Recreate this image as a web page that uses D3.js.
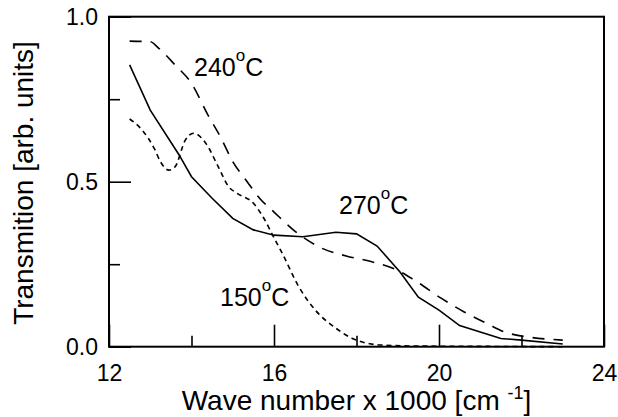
<!DOCTYPE html>
<html>
<head>
<meta charset="UTF-8">
<title>Transmition</title>
<script src="https://cdn.jsdelivr.net/npm/d3@7"></script>
<style>
  body { margin: 0; background: #fff; }
  text { font-family: "Liberation Sans", Arial, sans-serif; fill: #000; }
</style>
</head>
<body>
<script>

// wave number (x1000 cm^-1) and transmission
var wave270 = [12.5, 13.0, 13.7, 14.0, 14.5, 15.0, 15.5, 16.0, 16.7, 17.5, 18.0, 18.5, 19.05, 19.5, 20.0, 20.5, 21.5, 22.0, 23.0];
var trans270 = [0.854, 0.717, 0.581, 0.515, 0.45, 0.389, 0.354, 0.338, 0.333, 0.347, 0.342, 0.305, 0.227, 0.15, 0.111, 0.064, 0.025, 0.02, 0.008];

var wave240 = [12.5, 13.0, 13.2, 13.6, 14.0, 14.4, 14.7, 15.0, 15.35, 15.65, 16.0, 16.6, 17.15, 17.75, 18.35, 18.95, 19.4, 20.05, 20.6, 21.15, 21.7, 23.0];
var trans240 = [0.926, 0.924, 0.905, 0.854, 0.798, 0.702, 0.636, 0.561, 0.5, 0.45, 0.408, 0.341, 0.299, 0.275, 0.258, 0.234, 0.202, 0.147, 0.106, 0.071, 0.04, 0.02];

var wave150 = [12.5, 12.8, 13.1, 13.25, 13.45, 13.6, 13.85, 14.05, 14.35, 14.65, 14.9, 15.1, 15.5, 15.75, 16.0, 16.2, 16.6, 17.0, 17.5, 17.9, 18.6, 19.5, 21.0, 23.0];
var trans150 = [0.69, 0.657, 0.6, 0.56, 0.535, 0.545, 0.626, 0.647, 0.616, 0.545, 0.485, 0.465, 0.435, 0.39, 0.33, 0.283, 0.182, 0.111, 0.056, 0.025, 0.005, 0.002, 0.001, 0.0];

var xMajor = [12, 16, 20, 24];
var xMinor = [14, 18, 22];
var yMajor = [0, 0.5, 1.0];
var yMinor = [0.25, 0.75];

var width = 618, height = 417;
var margin = {left: 109, right: 14, top: 16.7, bottom: 70.3};
var w = width - margin.left - margin.right;
var h = height - margin.top - margin.bottom;

var svg = d3.select("body").append("svg")
    .attr("width", width)
    .attr("height", height);

var g = svg.append("g")
    .attr("transform", "translate(" + margin.left + "," + margin.top + ")");

var x = d3.scaleLinear().domain([12, 24]).range([0, w]);
var y = d3.scaleLinear().domain([0, 1]).range([h, 0]);

// ticks point inward
var xAxis = g.append("g")
    .attr("transform", "translate(0," + h + ")")
    .call(d3.axisBottom(x).tickValues(xMajor).tickSizeInner(-22).tickSizeOuter(0)
        .tickPadding(34).tickFormat(d3.format("d")));
g.append("g")
    .attr("transform", "translate(0," + h + ")")
    .call(d3.axisBottom(x).tickValues(xMinor).tickSizeInner(-11).tickSizeOuter(0).tickFormat(""));

var yAxis = g.append("g")
    .call(d3.axisLeft(y).tickValues(yMajor).tickSizeInner(-22).tickSizeOuter(0)
        .tickPadding(11).tickFormat(d3.format(".1f")));
g.append("g")
    .call(d3.axisLeft(y).tickValues(yMinor).tickSizeInner(-11).tickSizeOuter(0).tickFormat(""));

g.selectAll(".domain").remove();
g.selectAll(".tick line").attr("stroke", "#000").attr("stroke-width", 1.6);
g.selectAll(".tick text").style("font-size", "23px");
xAxis.selectAll(".tick text").attr("dy", 0);
yAxis.selectAll(".tick text").attr("dy", "0.36em");

g.append("rect")
    .attr("width", w)
    .attr("height", h)
    .attr("fill", "none")
    .attr("stroke", "#000")
    .attr("stroke-width", 2);

function series(wx, ty) {
    return wx.map(function(d, i) { return [d, ty[i]]; });
}

var lineLin = d3.line()
    .x(function(d) { return x(d[0]); })
    .y(function(d) { return y(d[1]); });
var lineSmooth = d3.line()
    .curve(d3.curveMonotoneX)
    .x(function(d) { return x(d[0]); })
    .y(function(d) { return y(d[1]); });

g.append("path")
    .datum(series(wave270, trans270))
    .attr("d", lineLin)
    .attr("fill", "none").attr("stroke", "#000").attr("stroke-width", 1.6);

g.append("path")
    .datum(series(wave240, trans240))
    .attr("d", lineSmooth)
    .attr("fill", "none").attr("stroke", "#000").attr("stroke-width", 1.6)
    .attr("stroke-dasharray", "12,9");

g.append("path")
    .datum(series(wave150, trans150))
    .attr("d", lineSmooth)
    .attr("fill", "none").attr("stroke", "#000").attr("stroke-width", 1.6)
    .attr("stroke-dasharray", "5,4");

// temperature labels
function tempLabel(t, px, py) {
    var tx = svg.append("text")
        .attr("x", px).attr("y", py)
        .style("font-size", "25px");
    tx.append("tspan").text(t);
    tx.append("tspan").attr("dy", -15).style("font-size", "17px").text("o");
    tx.append("tspan").attr("dy", 15).text("C");
}
tempLabel("240", 194, 76);
tempLabel("270", 339, 214);
tempLabel("150", 220, 306);

// axis titles
var xt = svg.append("text")
    .attr("x", margin.left + w / 2)
    .attr("y", 410)
    .attr("text-anchor", "middle")
    .style("font-size", "28px");
xt.append("tspan").text("Wave number x 1000 [cm ");
xt.append("tspan").attr("dy", -11).style("font-size", "18px").text("-1");
xt.append("tspan").attr("dy", 11).text("]");

svg.append("text")
    .attr("transform", "translate(33,183) rotate(-90)")
    .attr("text-anchor", "middle")
    .style("font-size", "28px")
    .text("Transmition [arb. units]");

</script>
</body>
</html>
